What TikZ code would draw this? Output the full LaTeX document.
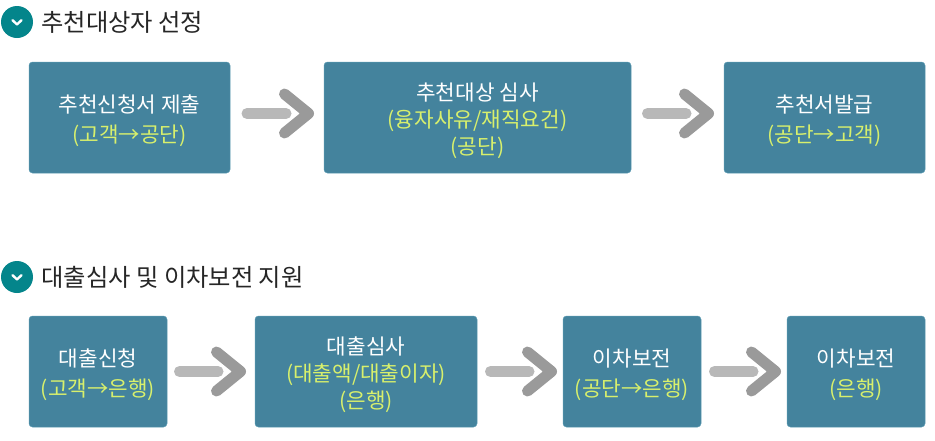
\documentclass[tikz,border=0pt]{standalone}
\usepackage{fontspec}
\setmainfont{Noto Sans CJK KR}
\usetikzlibrary{arrows.meta,positioning}
\definecolor{boxblue}{HTML}{44839D}
\definecolor{boxedge}{HTML}{5A9AB2}
\definecolor{iconteal}{HTML}{04858B}
\definecolor{hlyellow}{HTML}{D8F06C}
\definecolor{shaftgray}{HTML}{B8B8B8}
\definecolor{chevgray}{HTML}{9A9A9A}
\newcommand{\hl}[1]{\textcolor{hlyellow}{#1}}
\newcommand{\tl}{\rule{0pt}{24pt}}
\tikzset{
    procbox/.style ={
        shape=rectangle,
        rounded corners=3.5pt,
        draw=boxedge,
        line width=0.5pt,
        fill=boxblue,
        text=white,
        align=center,
        inner sep=0pt,
        outer sep=0pt,
        minimum height=111pt,
        font=\fontsize{21.3}{27}\selectfont
    },
    icon/.style ={
        shape=circle,
        fill=iconteal,
        inner sep=0pt,
        minimum size=32pt
    },
    heading/.style ={
        inner sep=0pt,
        text=black!85,
        font=\fontsize{24.3}{28}\selectfont
    },
    flowshaft/.style ={
        draw=shaftgray,
        line width=11pt,
        line cap=round
    },
    flowtip/.style ={
        draw=white,
        line width=0.01pt,
        -{Straight Barb[length=24pt,width=39pt,line width=11pt,round,color=chevgray]}
    },
    iconmark/.style ={
        draw=white,
        line width=2.4pt,
        line cap=round,
        line join=round
    }
}
\begin{document}
\begin{tikzpicture}
    \useasboundingbox[fill=white] (0pt,0pt) rectangle (935pt,-440pt);
    % first row
    \node[icon] (icona) at (17pt,-22pt) {};
    \node[heading,right=8pt of icona] (heada) {추천대상자 선정};
    \node[procbox,minimum width=201pt,anchor=north west] (apply) at (29pt,-62pt) {\tl 추천신청서 제출\\[3pt]\hl{(고객→공단)}};
    \node[procbox,minimum width=307pt,right=94pt of apply] (review) {\tl 추천대상 심사\\\hl{(융자사유/재직요건)}\\\hl{(공단)}};
    \node[procbox,minimum width=201pt,right=93pt of review] (issue) {\tl 추천서발급\\[3pt]\hl{(공단→고객)}};
    % second row
    \node[icon] (iconb) at (17pt,-277pt) {};
    \node[heading,right=8pt of iconb] (headb) {대출심사 및 이차보전 지원};
    \node[procbox,minimum width=138pt,anchor=north west] (loan) at (29pt,-316pt) {\tl 대출신청\\[3pt]\hl{(고객→은행)}};
    \node[procbox,minimum width=222pt,right=88pt of loan] (check) {\tl 대출심사\\\hl{(대출액/대출이자)}\\\hl{(은행)}};
    \node[procbox,minimum width=138pt,right=86pt of check] (subsidy) {\tl 이차보전\\[3pt]\hl{(공단→은행)}};
    \node[procbox,minimum width=138pt,right=86pt of subsidy] (final) {\tl 이차보전\\[3pt]\hl{(은행)}};
    % icon marks
    \foreach \i in {icona,iconb}
        \draw[iconmark] ([shift={(-4.5pt,1.8pt)}]\i.center) -- ([shift={(0pt,-2.4pt)}]\i.center) -- ([shift={(4.5pt,1.8pt)}]\i.center);
    % arrows
    \foreach \a/\b/\s/\e in {apply/review/17/10,review/issue/16.5/10}{
        \draw[flowtip,shorten <=\s pt+6pt,shorten >=\e pt] ([yshift=4pt]\a.east) -- ([yshift=4pt]\b.west);
        \draw[flowshaft,shorten <=\s pt,shorten >=\e pt+28pt] ([yshift=4pt]\a.east) -- ([yshift=4pt]\b.west);
    }
    \foreach \a/\b/\s/\e in {loan/check/12.5/9,check/subsidy/13.5/6,subsidy/final/13.5/6}{
        \draw[flowtip,shorten <=\s pt+6pt,shorten >=\e pt] (\a) -- (\b);
        \draw[flowshaft,shorten <=\s pt,shorten >=\e pt+28pt] (\a) -- (\b);
    }
\end{tikzpicture}
\end{document}
